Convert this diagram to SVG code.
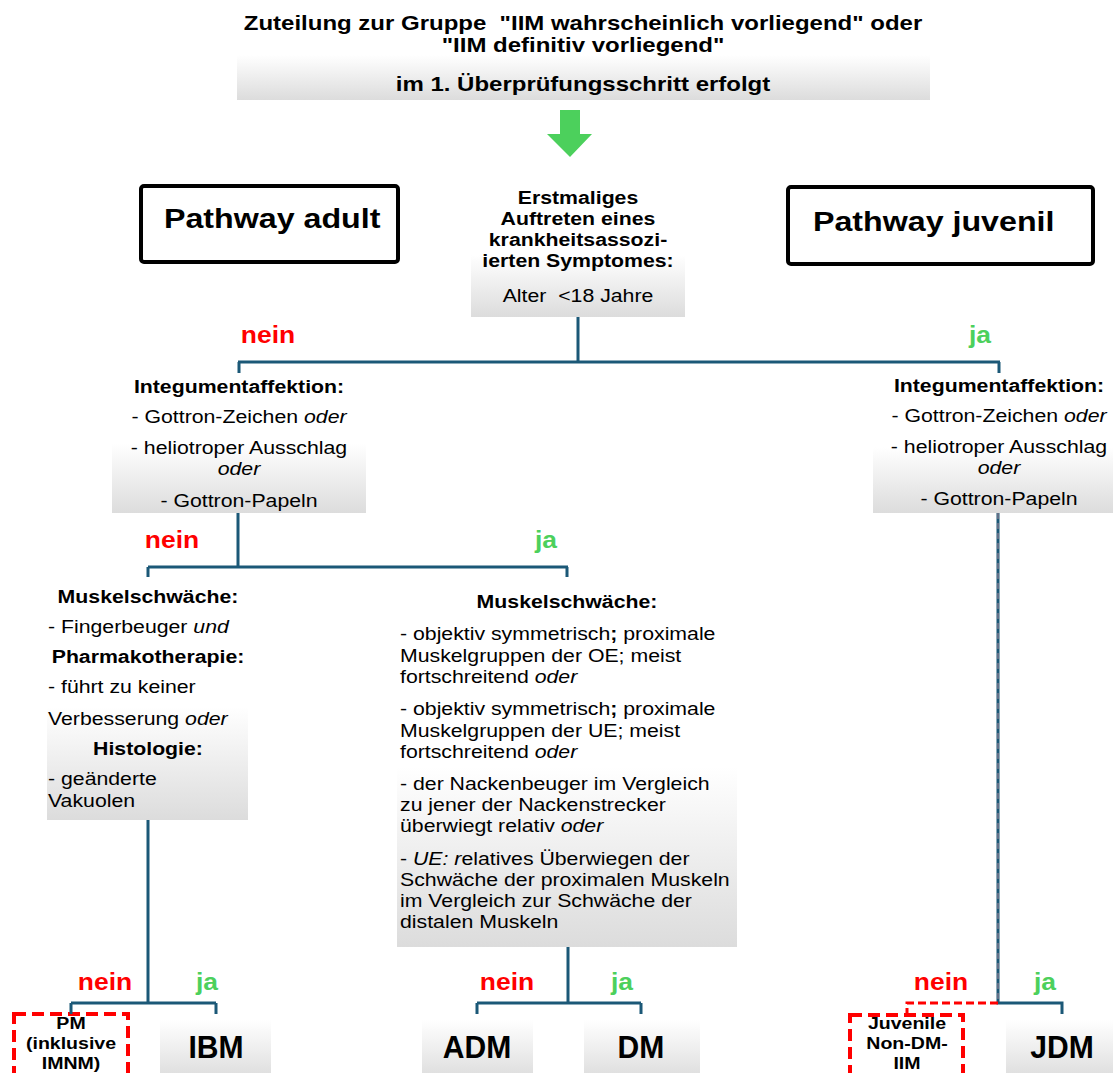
<svg xmlns="http://www.w3.org/2000/svg" width="1113" height="1073" viewBox="0 0 1113 1073">
<style>
text{font-family:"Liberation Sans",Arial,sans-serif;fill:#000}
.b{font-weight:bold}
.c{text-anchor:middle}
.i{font-style:italic}
.t{font-size:18.5px}
.s{font-size:17px}
.h{font-size:20px}
.lab{font-size:23px;font-weight:bold}
.no{fill:#FF0000}
.ja{fill:#4CD05C}
.big{font-size:32px;font-weight:bold}
.pw{font-size:28px;font-weight:bold}
.pre{white-space:pre}
.ln{fill:none;stroke:#1B5877;stroke-width:3}
.dash{fill:none;stroke:#FF0000;stroke-width:3;stroke-dasharray:8 4}
.gbox{fill:url(#g)}
.pbox{fill:#fff;stroke:#000;stroke-width:4}
.rbox{fill:#fff;stroke:#FF0000;stroke-width:4;stroke-dasharray:12 6}
</style>
<defs>
<linearGradient id="g" x1="0" y1="0" x2="0" y2="1">
<stop offset="0" stop-color="#ffffff"/>
<stop offset="1" stop-color="#dcdcdc"/>
</linearGradient>
</defs>
<rect width="1113" height="1073" fill="#fff"/>

<g id="header">
<rect class="gbox" x="237" y="55" width="693" height="45"/>
<text class="b c h pre" transform="translate(583,30) scale(1.2,1)">Zuteilung zur Gruppe  "IIM wahrscheinlich vorliegend" oder</text>
<text class="b c h" transform="translate(583,52) scale(1.2,1)">"IIM definitiv vorliegend"</text>
<text class="b c h" transform="translate(583,91) scale(1.2,1)">im 1. Überprüfungsschritt erfolgt</text>
</g>
<g id="arrow">
<polygon points="560,110 580,110 580,134 592,134 570,157 547,134 560,134" fill="#4CD05C"/>
</g>

<g id="pathway-adult">
<rect class="pbox" x="141" y="186" width="257" height="76" rx="3"/>
<text class="pw" transform="translate(164,228) scale(1.15,1)">Pathway adult</text>
</g>
<g id="pathway-juvenil">
<rect class="pbox" x="788" y="187" width="305" height="77" rx="3"/>
<text class="pw" transform="translate(813,231) scale(1.15,1)">Pathway juvenil</text>
</g>

<g id="age">
<rect class="gbox" x="471" y="255" width="214" height="62"/>
<text class="b c t" transform="translate(578,204) scale(1.15,1)">Erstmaliges</text>
<text class="b c t" transform="translate(578,225) scale(1.15,1)">Auftreten eines</text>
<text class="b c t" transform="translate(578,246) scale(1.15,1)">krankheitsassozi-</text>
<text class="b c t" transform="translate(578,267) scale(1.15,1)">ierten Symptomes:</text>
<text class="c t pre" transform="translate(578,302) scale(1.15,1)">Alter  &lt;18 Jahre</text>
</g>

<g id="integ-adult">
<rect class="gbox" x="112" y="443" width="254" height="70"/>
<text class="b c t" transform="translate(239,393) scale(1.15,1)">Integumentaffektion:</text>
<text class="c t" transform="translate(239,423) scale(1.15,1)">- Gottron-Zeichen <tspan class="i">oder</tspan></text>
<text class="c t" transform="translate(239,454) scale(1.15,1)">- heliotroper Ausschlag</text>
<text class="c t i" transform="translate(239,475) scale(1.15,1)">oder</text>
<text class="c t" transform="translate(239,507) scale(1.15,1)">- Gottron-Papeln</text>
</g>

<g id="integ-juvenil">
<rect class="gbox" x="873" y="447" width="240" height="66"/>
<text class="b c t" transform="translate(999,392) scale(1.15,1)">Integumentaffektion:</text>
<text class="c t" transform="translate(999,422) scale(1.15,1)">- Gottron-Zeichen <tspan class="i">oder</tspan></text>
<text class="c t" transform="translate(999,453) scale(1.15,1)">- heliotroper Ausschlag</text>
<text class="c t i" transform="translate(999,474) scale(1.15,1)">oder</text>
<text class="c t" transform="translate(999,505) scale(1.15,1)">- Gottron-Papeln</text>
</g>

<g id="muscle-left">
<rect class="gbox" x="47" y="707" width="201" height="113"/>
<text class="b c t" transform="translate(148,603) scale(1.15,1)">Muskelschwäche:</text>
<text class="t" transform="translate(48,633) scale(1.15,1)">- Fingerbeuger <tspan class="i">und</tspan></text>
<text class="b c t" transform="translate(148,663) scale(1.15,1)">Pharmakotherapie:</text>
<text class="t" transform="translate(48,693) scale(1.15,1)">- führt zu keiner</text>
<text class="t" transform="translate(48,725) scale(1.15,1)">Verbesserung <tspan class="i">oder</tspan></text>
<text class="b c t" transform="translate(148,755) scale(1.15,1)">Histologie:</text>
<text class="t" transform="translate(48,785) scale(1.15,1)">- geänderte</text>
<text class="t" transform="translate(48,807) scale(1.15,1)">Vakuolen</text>
</g>

<g id="muscle-mid">
<rect class="gbox" x="397" y="767" width="340" height="180"/>
<text class="b c t" transform="translate(567,608) scale(1.15,1)">Muskelschwäche:</text>
<text class="t" transform="translate(400,640) scale(1.15,1)">- objektiv symmetrisch<tspan class="b">;</tspan> proximale</text>
<text class="t" transform="translate(400,662) scale(1.15,1)">Muskelgruppen der OE; meist</text>
<text class="t" transform="translate(400,683) scale(1.15,1)">fortschreitend <tspan class="i">oder</tspan></text>
<text class="t" transform="translate(400,715) scale(1.15,1)">- objektiv symmetrisch<tspan class="b">;</tspan> proximale</text>
<text class="t" transform="translate(400,737) scale(1.15,1)">Muskelgruppen der UE; meist</text>
<text class="t" transform="translate(400,758) scale(1.15,1)">fortschreitend <tspan class="i">oder</tspan></text>
<text class="t" transform="translate(400,790) scale(1.15,1)">- der Nackenbeuger im Vergleich</text>
<text class="t" transform="translate(400,811) scale(1.15,1)">zu jener der Nackenstrecker</text>
<text class="t" transform="translate(400,832) scale(1.15,1)">überwiegt relativ <tspan class="i">oder</tspan></text>
<text class="t" transform="translate(400,865) scale(1.15,1)">- <tspan class="i">UE: r</tspan>elatives Überwiegen der</text>
<text class="t" transform="translate(400,886) scale(1.15,1)">Schwäche der proximalen Muskeln</text>
<text class="t" transform="translate(400,907) scale(1.15,1)">im Vergleich zur Schwäche der</text>
<text class="t" transform="translate(400,928) scale(1.15,1)">distalen Muskeln</text>
</g>

<g id="pm">
<rect class="rbox" x="14" y="1014" width="114" height="80"/>
<text class="b c s" transform="translate(71,1029) scale(1.15,1)">PM</text>
<text class="b c s" transform="translate(71,1049) scale(1.15,1)">(inklusive</text>
<text class="b c s" transform="translate(71,1069) scale(1.15,1)">IMNM)</text>
</g>
<g id="ibm">
<rect class="gbox" x="160" y="1020" width="111" height="60"/>
<text class="big c" transform="translate(216,1058) scale(0.94,1)">IBM</text>
</g>
<g id="adm">
<rect class="gbox" x="422" y="1020" width="111" height="60"/>
<text class="big c" transform="translate(477,1058) scale(0.94,1)">ADM</text>
</g>
<g id="dm">
<rect class="gbox" x="584" y="1020" width="116" height="60"/>
<text class="big c" transform="translate(641,1058) scale(0.94,1)">DM</text>
</g>
<g id="juvenile-nondm">
<rect class="rbox" x="850" y="1015" width="113" height="80"/>
<text class="b c s" transform="translate(907,1029) scale(1.15,1)">Juvenile</text>
<text class="b c s" transform="translate(907,1049) scale(1.15,1)">Non-DM-</text>
<text class="b c s" transform="translate(907,1069) scale(1.15,1)">IIM</text>
</g>
<g id="jdm">
<rect class="gbox" x="1006" y="1020" width="107" height="60"/>
<text class="big c" transform="translate(1062,1058) scale(0.94,1)">JDM</text>
</g>

<g id="connectors">
<path class="ln" d="M578,317 V362 M238,362 H1000 M239,362 V373 M999,362 V373"/>
<path class="ln" d="M238,513 V567 M148,567 H568 M148,567 V577 M567,567 V577"/>
<path class="ln" d="M148,820 V1003 M71,1003 H216 M71,1003 V1014 M216,1003 V1014"/>
<path class="ln" d="M568,947 V1003 M477,1003 H641 M477,1003 V1014 M641,1003 V1014"/>
<path class="ln" d="M998,513 V1003 H1062 V1014"/>
<path d="M998,513 V1003" fill="none" stroke="#e89aa6" stroke-width="1" stroke-dasharray="6 4" opacity="0.7"/>
<path class="dash" d="M998,1003 H907 V1014"/>
</g>

<g id="labels">
<text class="lab no c" transform="translate(268,343) scale(1.15,1)">nein</text>
<text class="lab ja c" transform="translate(980,343) scale(1.15,1)">ja</text>
<text class="lab no c" transform="translate(172,548) scale(1.15,1)">nein</text>
<text class="lab ja c" transform="translate(546,548) scale(1.15,1)">ja</text>
<text class="lab no c" transform="translate(105,990) scale(1.15,1)">nein</text>
<text class="lab ja c" transform="translate(207,990) scale(1.15,1)">ja</text>
<text class="lab no c" transform="translate(507,990) scale(1.15,1)">nein</text>
<text class="lab ja c" transform="translate(622,990) scale(1.15,1)">ja</text>
<text class="lab no c" transform="translate(941,990) scale(1.15,1)">nein</text>
<text class="lab ja c" transform="translate(1045,990) scale(1.15,1)">ja</text>
</g>
</svg>
